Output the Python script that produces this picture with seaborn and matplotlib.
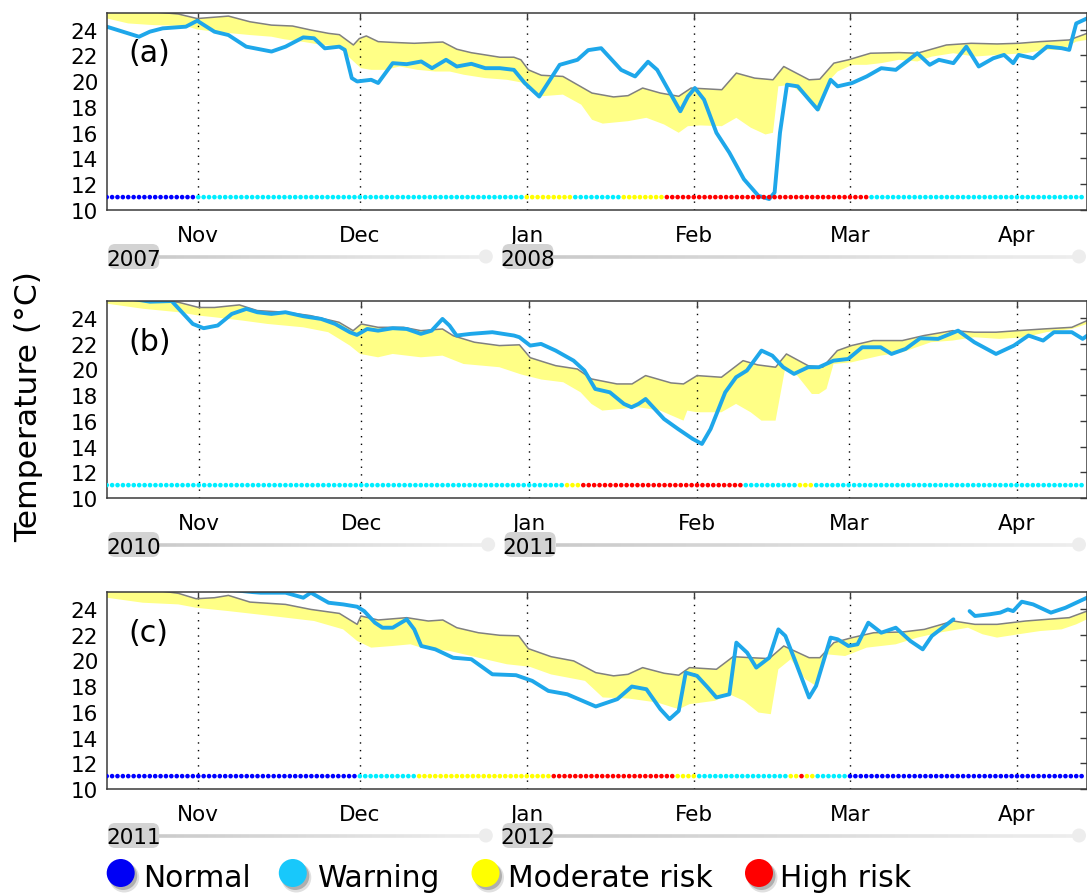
import numpy as np
import pandas as pd
import matplotlib
matplotlib.use("Agg")
import matplotlib.pyplot as plt
import matplotlib.dates as mdates
from matplotlib.patches import Circle, FancyBboxPatch
from matplotlib.collections import LineCollection
from matplotlib.colors import to_rgb
import seaborn as sns

# ---------------------------------------------------------------------------
# Data: day offsets are counted from 15 October of each season.
# grey = climatological reference, low = lower edge of the tolerance band,
# blue = observed sea temperature (deg C).
# ---------------------------------------------------------------------------

# (a) 2007-2008
A_GREY_DAY = [0, 8, 13.3, 16.8, 22.6, 26.6, 30.6, 34.5, 37.9, 41.2, 43.2, 45.8, 46.9, 48.2, 50.4,
              53.1, 57.1, 59.7, 62.4, 65.0, 67.7, 70.3, 73.0, 75.6, 76.9, 78.3, 80.7, 84.7, 90.1,
              94.1, 96.8, 99.5, 102.8, 106.2, 108.5, 114.2, 116.9, 120.3, 123.7, 125.7, 130.4,
              132.4, 135.0, 137.7, 141.8, 147.1, 150.5, 155.9, 160.5, 165.3, 169.3, 173.3, 178.7, 182]
A_GREY_T = [25.6, 25.4, 25.2, 24.85, 25.04, 24.6, 24.34, 24.27, 23.96, 23.7, 23.6, 22.8, 23.3, 23.5,
            23.06, 23.0, 22.93, 22.98, 23.03, 22.47, 22.2, 22.03, 21.85, 21.85, 21.65, 20.87, 20.45,
            20.36, 19.07, 18.77, 18.87, 19.46, 19.07, 18.82, 19.46, 19.33, 20.62, 20.23, 20.1, 21.13,
            20.1, 20.15, 21.39, 21.65, 22.16, 22.21, 22.16, 22.8, 22.93, 22.88, 22.93, 23.06, 23.19, 23.7]
A_LOW_DAY = [0, 4, 8.7, 14.7, 16.8, 20, 26.6, 30.6, 33, 36.2, 40, 43.2, 45.2, 47.2, 49.1, 51.8, 54.4,
             57.7, 61, 63.7, 66.3, 70.3, 74.3, 76.9, 80.0, 84.7, 88.1, 90.1, 92.1, 96.8, 100.2, 103.5,
             106.2, 107.9, 110.2, 114.2, 116.9, 119.6, 122.3, 123.7, 124.7, 127.0, 129.7, 132.4, 134.0,
             135.7, 138.4, 141.1, 143.8, 147.1, 150.5, 153.2, 157.2, 161.2, 165.3, 170.6, 174.0, 177.3,
             180, 182]
A_LOW_T = [24.86, 24.47, 24.34, 24.27, 24.0, 23.83, 23.57, 23.44, 23.24, 23.06, 22.8, 22.67, 21.77,
           21.0, 20.87, 20.87, 21.13, 20.87, 20.74, 20.74, 20.49, 20.23, 20.1, 19.9, 18.8, 18.95, 18.17,
           17.0, 16.7, 16.89, 17.15, 16.63, 15.99, 16.5, 16.56, 16.5, 17.15, 16.38, 15.86, 15.99, 19.59,
           19.72, 18.8, 17.66, 19.97, 20.74, 21.26, 21.26, 21.39, 21.65, 21.52, 21.9, 22.16, 21.9, 22.03,
           22.16, 22.42, 22.42, 23.06, 23.19]
A_BLUE_DAY = [0, 6, 8, 10.4, 14.7, 16.8, 20, 22.6, 25.9, 30.6, 33.2, 36.5, 38.5, 40.5, 43.2, 44.2,
              45.5, 46.5, 49.1, 50.4, 53.1, 55.7, 58.4, 60.4, 63, 65, 67.7, 70.3, 73, 75.6, 77.6, 80.3,
              84.1, 87.4, 89.4, 91.8, 95.5, 98.1, 100.5, 102.2, 106.5, 107.9, 109.2, 110.9, 113.2,
              115.6, 118.3, 121.0, 123.0, 124.0, 125.0, 126.3, 128.3, 130.4, 132.0, 134.4, 135.7,
              138.4, 141.1, 143.8, 146.5, 150.5, 152.8, 154.5, 157.2, 159.6, 161.9, 164.6, 166.6,
              168.3, 169.3, 172, 174.6, 177.3, 178.7, 180, 182]
A_BLUE_T = [24.22, 23.44, 23.83, 24.09, 24.22, 24.68, 23.83, 23.57, 22.67, 22.29, 22.67, 23.39, 23.32,
            22.54, 22.67, 22.42, 20.23, 19.97, 20.1, 19.85, 21.39, 21.31, 21.52, 21.0, 21.65, 21.13,
            21.34, 21.0, 21.0, 20.87, 19.85, 18.8, 21.26, 21.65, 22.4, 22.55, 20.87, 20.36, 21.5, 20.87,
            17.66, 18.8, 19.46, 18.56, 15.99, 14.45, 12.39, 11.1, 10.85, 11.36, 15.99, 19.72, 19.59,
            18.56, 17.79, 20.1, 19.59, 19.85, 20.36, 21.0, 20.87, 22.16, 21.26, 21.65, 21.39, 22.67,
            21.13, 21.77, 22.03, 21.39, 22.03, 21.77, 22.67, 22.55, 22.42, 24.47, 24.86]
A_STATUS = [("Normal", 17), ("Warning", 61), ("Moderate risk", 9), ("Warning", 9),
            ("Moderate risk", 8), ("High risk", 38), ("Warning", 40)]

# (b) 2010-2011
B_GREY_DAY = [0, 8, 13.3, 17, 19.9, 24.5, 27.8, 33, 37.6, 42.9, 45.5, 47, 50.1, 54.8, 58, 62, 64,
              67.9, 72.5, 76.2, 78.2, 80.9, 82.9, 86.9, 89.5, 94.2, 97, 99.5, 104.2, 106.5, 109,
              113.5, 117.5, 120.2, 123.5, 125.5, 129.5, 132.2, 134.9, 137.5, 141.5, 146.9, 150.9,
              156.2, 160.2, 164.2, 168.2, 172.9, 178.2, 181]
B_GREY_T = [25.6, 25.4, 25.2, 24.8, 24.8, 25.0, 24.56, 24.43, 24.17, 23.65, 23.0, 23.52, 23.26, 23.26,
            23.0, 23.13, 22.6, 22.1, 21.84, 21.9, 20.9, 20.54, 20.28, 20.02, 19.25, 18.86, 18.86, 19.51,
            18.94, 18.86, 19.51, 19.38, 20.67, 20.34, 20.16, 21.19, 20.28, 20.16, 21.45, 21.84, 22.23,
            22.23, 22.62, 23.0, 22.88, 22.88, 23.0, 23.13, 23.26, 23.78]
B_LOW_DAY = [0, 6.7, 13.3, 17, 19.9, 25.1, 29.7, 36.3, 40.9, 44.9, 46.8, 50.1, 52.8, 58, 62, 65.9,
             72.5, 76.5, 80.3, 84.3, 87.5, 89.5, 91.5, 94.9, 98.2, 102.2, 106.5, 107.2, 109, 113.5,
             116.2, 118.9, 120.9, 123.5, 125.2, 127.5, 130.2, 131.5, 132.9, 134.2, 137.5, 142.9,
             146.9, 152.2, 156.2, 160.2, 164.8, 169.5, 173.5, 178.2, 181]
B_LOW_T = [25.1, 24.7, 24.43, 24.17, 24.04, 23.78, 23.52, 23.26, 22.88, 21.84, 21.19, 20.93, 21.19,
           20.93, 21.06, 20.41, 20.16, 19.6, 19.2, 18.99, 18.21, 17.31, 16.79, 16.92, 17.05, 16.79,
           16.01, 16.79, 16.66, 16.66, 17.31, 16.66, 16.01, 16.01, 19.9, 19.51, 18.08, 18.08, 18.47,
           20.41, 20.54, 21.06, 21.32, 22.1, 22.23, 22.49, 22.36, 22.49, 22.88, 23.13, 23.52]
B_BLUE_DAY = [0, 5, 8, 12, 13.9, 15.9, 17.9, 20.5, 23.1, 25.8, 27.8, 30.4, 33, 36.3, 39.6, 42.2, 44.9,
              46.2, 48.1, 50.1, 52.8, 55.4, 58, 60, 62, 63.3, 64.6, 67.2, 71.2, 75.2, 76.2, 78.2, 80.2,
              82.9, 86.2, 88.2, 90.2, 92.9, 95.5, 96.9, 98.2, 99.5, 102.9, 105.5, 108.2, 109.9, 111.5,
              114.2, 116.2, 118.2, 120.9, 122.9, 124.9, 126.9, 129.5, 131.5, 134.2, 136.9, 139.5,
              142.9, 144.9, 147.5, 150.2, 153.5, 157.2, 160.2, 164.2, 167.5, 170.2, 172.9, 174.9,
              178.2, 180.2, 181]
B_BLUE_T = [25.8, 25.45, 25.25, 25.3, 24.43, 23.52, 23.19, 23.4, 24.3, 24.69, 24.43, 24.3, 24.43,
            24.12, 23.91, 23.52, 22.88, 22.67, 23.13, 23.0, 23.19, 23.13, 22.75, 23.0, 23.91, 23.39,
            22.62, 22.75, 22.88, 22.62, 22.49, 21.84, 21.97, 21.45, 20.67, 19.9, 18.47, 18.21, 17.31,
            17.05, 17.31, 17.69, 16.14, 15.36, 14.59, 14.2, 15.36, 18.21, 19.38, 19.9, 21.45, 21.06,
            20.16, 19.64, 20.16, 20.16, 20.67, 20.8, 21.71, 21.71, 21.19, 21.58, 22.41, 22.36, 23.0,
            22.1, 21.19, 21.84, 22.62, 22.23, 22.88, 22.88, 22.36, 22.6]
B_STATUS = [("Warning", 85), ("Moderate risk", 3), ("High risk", 30), ("Warning", 10),
            ("Moderate risk", 3), ("Warning", 50)]

# (c) 2011-2012
C_GREY_DAY = [0, 8, 13.3, 16.6, 20, 22.6, 26.6, 33.2, 37.9, 43.2, 46.5, 47.2, 50.4, 55.7, 59.7, 62.4,
              65, 69, 73, 76.5, 78.3, 82.5, 86.7, 90.8, 94.1, 96.8, 99.5, 103.5, 106.2, 108.2, 113.2,
              116.3, 119.6, 123, 125.7, 130.4, 132.4, 135, 138.4, 142.4, 147.8, 151.8, 157.2, 161.2,
              165.3, 170.6, 174.6, 178.7, 182]
C_GREY_T = [25.7, 25.5, 25.2, 24.78, 24.86, 25.04, 24.52, 24.34, 23.95, 23.64, 22.79, 23.44, 23.13,
            23.31, 23.05, 23.13, 22.53, 22.14, 21.94, 21.9, 20.9, 20.28, 19.95, 19.04, 18.79, 18.91,
            19.43, 18.99, 18.84, 19.43, 19.3, 20.28, 20.2, 20.13, 21.11, 20.2, 20.2, 21.37, 21.76,
            22.14, 22.2, 22.4, 23.05, 22.79, 22.79, 23.05, 23.18, 23.31, 23.82]
C_LOW_DAY = [0, 6.7, 13.3, 16.6, 22.6, 30.6, 38.5, 43.9, 46.5, 49.1, 53.1, 56.4, 58.4, 63.7, 69, 74.3,
             78.5, 82.5, 88.8, 92.1, 96.8, 102.2, 106.2, 108.2, 112.9, 115.6, 118.3, 121, 123.3, 124.7,
             127, 129.7, 131.7, 133.7, 137.1, 141.1, 146.5, 150.5, 154.5, 159.9, 162.6, 165.3, 169.3,
             173.3, 177.3, 180, 182]
C_LOW_T = [24.86, 24.47, 24.34, 24.08, 23.82, 23.44, 23.05, 22.4, 21.5, 20.98, 21.11, 21.24, 20.98,
           20.72, 20.2, 19.69, 19.5, 18.9, 18.4, 17.11, 17.03, 16.72, 16.2, 16.59, 16.85, 17.36, 16.85,
           15.94, 15.81, 19.3, 20.08, 18.53, 18.01, 20.46, 20.33, 20.98, 21.24, 21.76, 22.14, 22.53,
           22.02, 21.76, 22.02, 22.27, 22.4, 22.79, 23.18]
C_BLUE_DAY = [0, 20, 27, 28.6, 33.2, 36.5, 37.9, 41.2, 43.9, 46.5, 47.8, 49.8, 51.2, 53.1, 55.7, 57.1,
              58.4, 61, 64.3, 67.7, 71.6, 76, 79, 82, 85.5, 90.8, 94.8, 97.5, 100.2, 102.8, 104.5,
              106.2, 107.5, 109.6, 111.6, 113.2, 115.6, 116.9, 118.9, 120.6, 123, 124.7, 126, 127.7,
              130.4, 131.7, 134.4, 135.7, 137.7, 139.4, 141.4, 143.8, 146.5, 149.2, 151.5, 153.2,
              157.2, 158.7, 160.2, 161.2, 163.9, 165.9, 167.3, 168.3, 169.9, 172, 175.3, 178, 180, 182]
C_BLUE_T = [26.0, 25.6, 25.3, 25.25, 25.25, 24.86, 25.25, 24.47, 24.34, 24.16, 23.82, 22.92, 22.53,
            22.53, 23.18, 22.4, 21.11, 20.85, 20.2, 20.08, 18.91, 18.84, 18.4, 17.62, 17.36, 16.41,
            16.98, 17.96, 17.75, 16.2, 15.43, 16.07, 19.04, 18.79, 17.88, 17.11, 17.36, 21.37, 20.59,
            19.43, 20.2, 22.4, 21.89, 20.08, 17.11, 18.01, 21.76, 21.63, 21.11, 21.24, 22.92, 22.14,
            22.53, 21.5, 20.85, 21.89, 23.18, np.nan, 23.82, 23.44, 23.57, 23.7, 23.95, 23.82, 24.55,
            24.34, 23.7, 24.08, 24.47, 24.86]
C_STATUS = [("Normal", 47), ("Warning", 11), ("Moderate risk", 25), ("High risk", 23),
            ("Moderate risk", 4), ("Warning", 17), ("Moderate risk", 2), ("High risk", 1),
            ("Moderate risk", 2), ("Warning", 6), ("Normal", 44)]

STATUS_NAMES = ["Normal", "Warning", "Moderate risk", "High risk"]
DOT_COLORS = {"Normal": "#0000ff", "Warning": "#00eeff", "Moderate risk": "#ffff00", "High risk": "#ff0000"}
LEGEND_COLORS = {"Normal": "#0000f5", "Warning": "#18c8fb", "Moderate risk": "#ffff00", "High risk": "#ff0000"}
DOT_LEVEL = 11.0
YTICKS = [10, 12, 14, 16, 18, 20, 22, 24]

BLUE = "#1ea7ea"
GREY = "#808080"
BAND = "#ffff86"

PANELS = [
    dict(label="(a)", start="2007-10-15", end="2008-04-14", jan="2008-01-01", top=14, bottom=211,
         years=("2007", "2008"), grey=(A_GREY_DAY, A_GREY_T), low=(A_LOW_DAY, A_LOW_T),
         blue=(A_BLUE_DAY, A_BLUE_T), status=A_STATUS),
    dict(label="(b)", start="2010-10-15", end="2011-04-14", jan="2011-01-01", top=302.3, bottom=499,
         years=("2010", "2011"), grey=(B_GREY_DAY, B_GREY_T), low=(B_LOW_DAY, B_LOW_T),
         blue=(B_BLUE_DAY, B_BLUE_T), status=B_STATUS),
    dict(label="(c)", start="2011-10-15", end="2012-04-14", jan="2012-01-01", top=593.3, bottom=790,
         years=("2011", "2012"), grey=(C_GREY_DAY, C_GREY_T), low=(C_LOW_DAY, C_LOW_T),
         blue=(C_BLUE_DAY, C_BLUE_T), status=C_STATUS),
]

W, H, DPI = 1087, 895, 100
AX_LEFT = 106.7

sns.set_style("white")
plt.rcParams["font.family"] = ["DejaVu Sans"]
plt.rcParams["text.color"] = "black"
plt.rcParams["axes.labelcolor"] = "black"
plt.rcParams["xtick.color"] = "black"
plt.rcParams["ytick.color"] = "black"
plt.rcParams["axes.edgecolor"] = "#3a3a3a"
plt.rcParams["axes.linewidth"] = 1.1

fig = plt.figure(figsize=(W / DPI, H / DPI), dpi=DPI)


def as_dates(start, days):
    d = np.round(np.asarray(days, dtype=float) * 86400).astype(np.int64)
    return np.datetime64(start, "s") + d.astype("timedelta64[s]")


def nan_segments(x, y):
    y = np.asarray(y, dtype=float)
    ok = ~np.isnan(y)
    edges = np.flatnonzero(np.diff(np.r_[0, ok.astype(int), 0]))
    return [(x[a:b], y[a:b]) for a, b in zip(edges[::2], edges[1::2])]


axes = []
for p in PANELS:
    ax = fig.add_axes([AX_LEFT / W, 1 - p["bottom"] / H, (W - AX_LEFT) / W, (p["bottom"] - p["top"]) / H])
    axes.append(ax)

    gx = as_dates(p["start"], p["grey"][0])
    gy = np.asarray(p["grey"][1], dtype=float)
    lx = as_dates(p["start"], p["low"][0])
    ly = np.asarray(p["low"][1], dtype=float)
    bx = as_dates(p["start"], p["blue"][0])

    # daily alert status along the bottom
    names = [s for s, _ in p["status"]]
    counts = [n for _, n in p["status"]]
    codes = np.repeat(names, counts)
    dots = pd.DataFrame({"date": as_dates(p["start"], np.arange(len(codes))),
                         "level": np.full(len(codes), DOT_LEVEL), "status": codes})

    sns.lineplot(data=pd.DataFrame({"date": gx, "temp": gy}), x="date", y="temp", ax=ax,
                 color=GREY, linewidth=1.1, estimator=None, sort=False, zorder=2.2)
    for sx, sy in nan_segments(bx, p["blue"][1]):
        sns.lineplot(data=pd.DataFrame({"date": sx, "temp": sy}), x="date", y="temp", ax=ax,
                     color=BLUE, linewidth=2.8, estimator=None, sort=False, zorder=2.5)
    ax.fill(np.concatenate([gx, lx[::-1]]), np.concatenate([gy, ly[::-1]]),
            color=BAND, linewidth=0, zorder=1)
    sns.scatterplot(data=dots, x="date", y="level", hue="status", hue_order=STATUS_NAMES,
                    palette=DOT_COLORS, s=11, linewidth=0, legend=False, ax=ax, zorder=3)

    ax.set_xlim(np.datetime64(p["start"]), np.datetime64(p["end"]))
    ax.set_ylim(10, 25.28)
    ax.set_yticks(YTICKS)
    ax.xaxis.set_major_locator(mdates.MonthLocator())
    ax.xaxis.set_major_formatter(mdates.DateFormatter("%b"))
    ax.tick_params(direction="in", length=5, width=1, top=True, right=True,
                   labelsize=15.5, color="#3a3a3a", labelcolor="black")
    ax.tick_params(axis="x", pad=10.5)
    ax.tick_params(axis="y", pad=6)
    ax.grid(True, axis="x", color="black", linestyle=(0, (1, 4.5)), linewidth=1.0)
    ax.grid(False, axis="y")
    ax.set_axisbelow("line")
    ax.set_xlabel("")
    ax.set_ylabel("")
    ax.text(0.022, 0.797, p["label"], transform=ax.transAxes, fontsize=21.7,
            ha="left", va="center", color="black")

fig.text(28.5 / W, 1 - 406.5 / H, "Temperature (\u00b0C)", rotation=90,
         ha="center", va="center", fontsize=22.6, color="black")

# overlay in pixel units (origin at the top-left) for the year bars and the legend
deco = fig.add_axes([0, 0, 1, 1], zorder=5)
deco.set_xlim(0, W)
deco.set_ylim(H, 0)
deco.set_axis_off()
deco.patch.set_alpha(0)


def gradient_bar(x0, x1, y, c0="#cbcbcb", c1="#ededed", n=40):
    xs = np.linspace(x0, x1, n + 1)
    segs = [[(xs[i], y), (xs[i + 1], y)] for i in range(n)]
    a, b = np.array(to_rgb(c0)), np.array(to_rgb(c1))
    cols = [tuple(a + (b - a) * t) for t in np.linspace(0, 1, n)]
    deco.add_collection(LineCollection(segs, colors=cols, linewidths=2.6, capstyle="butt"))
    deco.add_patch(Circle((x1, y), 7, fc=c1, ec="none"))


def year_box(cx, y, text):
    deco.add_patch(FancyBboxPatch((cx - 25.5, y - 12.5), 51, 25,
                                  boxstyle="round,pad=0,rounding_size=7", fc="#d3d3d3", ec="none"))
    deco.text(cx, y + 8, text, ha="center", va="baseline", fontsize=15.5, color="black")


for p, ax in zip(PANELS, axes):
    yc = p["bottom"] + 46.5
    jx = ax.transData.transform((mdates.date2num(np.datetime64(p["jan"])), 0))[0]
    year_box(AX_LEFT + 27, yc, p["years"][0])
    gradient_bar(AX_LEFT + 52.5, jx - 41, yc)
    year_box(jx + 1, yc, p["years"][1])
    gradient_bar(jx + 26.5, W - 8, yc)

LEGEND_ITEMS = [("Normal", 120.7, 143.3), ("Warning", 292.8, 316.7),
                ("Moderate risk", 485.5, 508.3), ("High risk", 759.0, 780.4)]
for name, cx, tx in LEGEND_ITEMS:
    deco.add_patch(Circle((cx + 3.5, 878.5), 15, fc="#000000", alpha=0.12, ec="none"))
    deco.add_patch(Circle((cx + 2.5, 877), 14, fc="#555555", alpha=0.35, ec="none"))
    deco.add_patch(Circle((cx, 874), 14, fc=LEGEND_COLORS[name], ec="none"))
    deco.text(tx, 886.7, name, ha="left", va="baseline", fontsize=21.4, color="black")

fig.savefig("out.png", dpi=DPI)
